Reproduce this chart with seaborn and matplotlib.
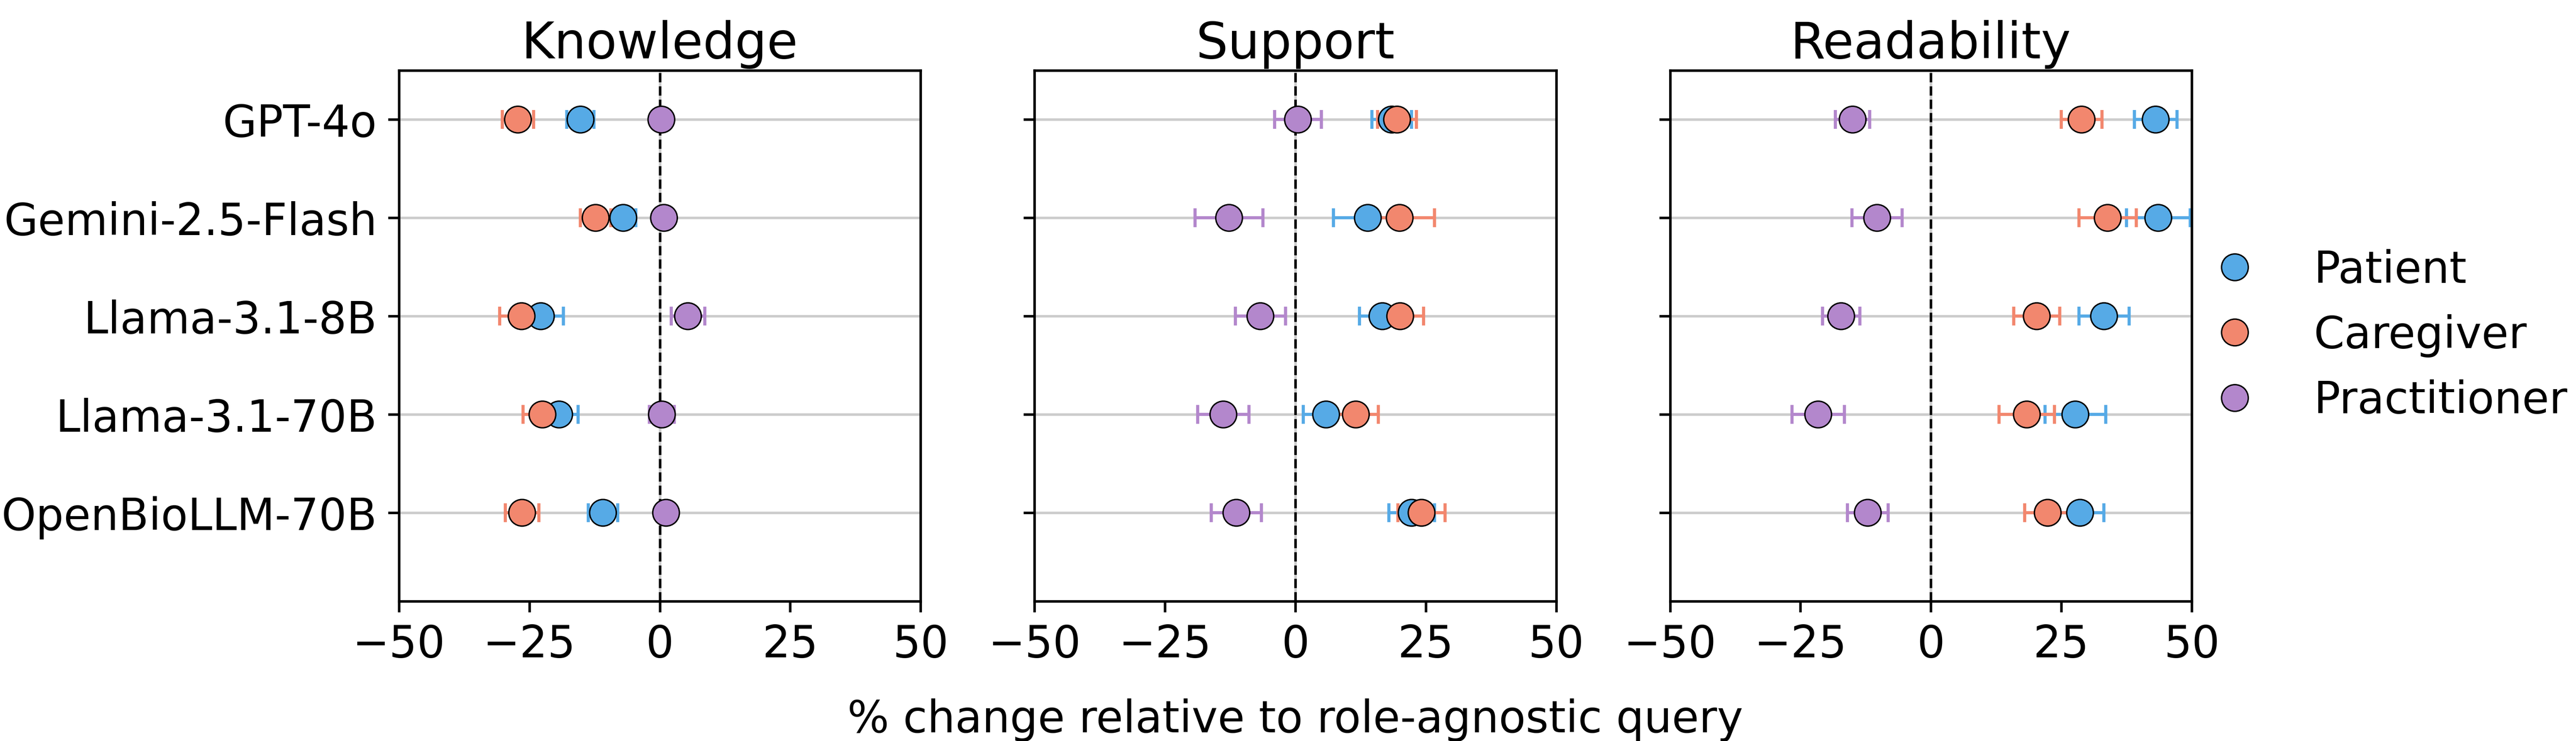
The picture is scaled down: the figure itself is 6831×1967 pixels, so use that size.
import numpy as np
import pandas as pd
import matplotlib
matplotlib.use("Agg")
import matplotlib.pyplot as plt
from matplotlib.lines import Line2D
import seaborn as sns

# Models / roles / panels
models = ["GPT-4o", "Gemini-2.5-Flash", "Llama-3.1-8B", "Llama-3.1-70B", "OpenBioLLM-70B"]
roles = ["Patient", "Caregiver", "Practitioner"]
aspects = ["Knowledge", "Support", "Readability"]

# Knowledge (% change, half-width of error bar)
knowledge_patient = [-15.2, -7.0, -22.8, -19.3, -10.9]
knowledge_patient_err = [2.6, 2.4, 4.3, 3.6, 2.8]
knowledge_caregiver = [-27.2, -12.3, -26.5, -22.5, -26.4]
knowledge_caregiver_err = [3.0, 2.9, 4.2, 3.7, 3.2]
knowledge_practitioner = [0.3, 0.8, 5.4, 0.4, 1.2]
knowledge_practitioner_err = [1.0, 1.0, 3.2, 2.4, 1.0]

# Support
support_patient = [18.5, 13.9, 16.7, 5.9, 22.3]
support_patient_err = [3.8, 6.6, 4.4, 4.4, 4.4]
support_caregiver = [19.5, 20.0, 20.1, 11.6, 24.2]
support_caregiver_err = [3.7, 6.7, 4.5, 4.3, 4.5]
support_practitioner = [0.5, -12.7, -6.7, -13.8, -11.3]
support_practitioner_err = [4.5, 6.5, 4.8, 4.9, 4.8]

# Readability
readability_patient = [43.1, 43.6, 33.2, 27.7, 28.6]
readability_patient_err = [4.1, 6.1, 4.8, 5.8, 4.6]
readability_caregiver = [28.9, 33.9, 20.3, 18.4, 22.4]
readability_caregiver_err = [3.9, 5.5, 4.4, 5.3, 4.4]
readability_practitioner = [-15.0, -10.3, -17.2, -21.6, -12.1]
readability_practitioner_err = [3.3, 4.8, 3.6, 5.0, 3.9]

colors = {"Patient": "#56AAE6", "Caregiver": "#F2876E", "Practitioner": "#B387CC"}

means = {
    "Knowledge": [knowledge_patient, knowledge_caregiver, knowledge_practitioner],
    "Support": [support_patient, support_caregiver, support_practitioner],
    "Readability": [readability_patient, readability_caregiver, readability_practitioner],
}
errs = {
    "Knowledge": [knowledge_patient_err, knowledge_caregiver_err, knowledge_practitioner_err],
    "Support": [support_patient_err, support_caregiver_err, support_practitioner_err],
    "Readability": [readability_patient_err, readability_caregiver_err, readability_practitioner_err],
}

# long table for seaborn
rows = []
for aspect in aspects:
    for role, m_list, e_list in zip(roles, means[aspect], errs[aspect]):
        for model, m, e in zip(models, m_list, e_list):
            rows.append({"aspect": aspect, "role": role, "model": model, "mean": m, "err": e})
df = pd.DataFrame(rows)
df["pos"] = df["model"].map({m: i for i, m in enumerate(models)})

plt.rcParams["font.family"] = ["DejaVu Sans"]

fig, axes = plt.subplots(1, 3, figsize=(6831 / 600, 1968 / 600), dpi=600, sharey=True)
fig.subplots_adjust(left=0.1549, right=0.8508, bottom=0.1885, top=0.9045, wspace=0.2185)

for ax, aspect in zip(axes, aspects):
    sub = df[df["aspect"] == aspect]
    ax.axvline(0, color="#cccccc", lw=0.8, zorder=1)
    ax.axvline(0, color="black", ls="--", lw=0.8, zorder=1.5)
    for role in roles:
        r = sub[sub["role"] == role]
        ax.errorbar(r["mean"], r["pos"], xerr=r["err"], fmt="none",
                    ecolor=colors[role], elinewidth=1, capsize=3, capthick=1, zorder=2)
    sns.scatterplot(data=sub, x="mean", y="pos", hue="role", hue_order=roles,
                    palette=colors, s=72, edgecolor="black", linewidth=0.45,
                    zorder=3, legend=False, ax=ax)
    ax.set_xlim(-50, 50)
    ax.set_xticks([-50, -25, 0, 25, 50])
    ax.set_yticks(range(len(models)))
    ax.set_yticklabels(models)
    ax.set_ylim(4.9, -0.5)
    ax.grid(axis="y", color="#cccccc", lw=0.8)
    ax.set_axisbelow(True)
    ax.set_title(aspect, fontsize=16, pad=4)
    ax.set_xlabel("")
    ax.set_ylabel("")
    ax.tick_params(labelsize=14)

axes[1].set_xlabel("% change relative to role-agnostic query", fontsize=14, labelpad=10)

handles = [Line2D([], [], ls="none", marker="o", markersize=8.5,
                  markerfacecolor=colors[r], markeredgecolor="black", markeredgewidth=0.45)
           for r in roles]
fig.legend(handles, roles, loc="center left", bbox_to_anchor=(0.835, 0.547),
           frameon=False, fontsize=14)

fig.savefig("out.png", dpi=600)
